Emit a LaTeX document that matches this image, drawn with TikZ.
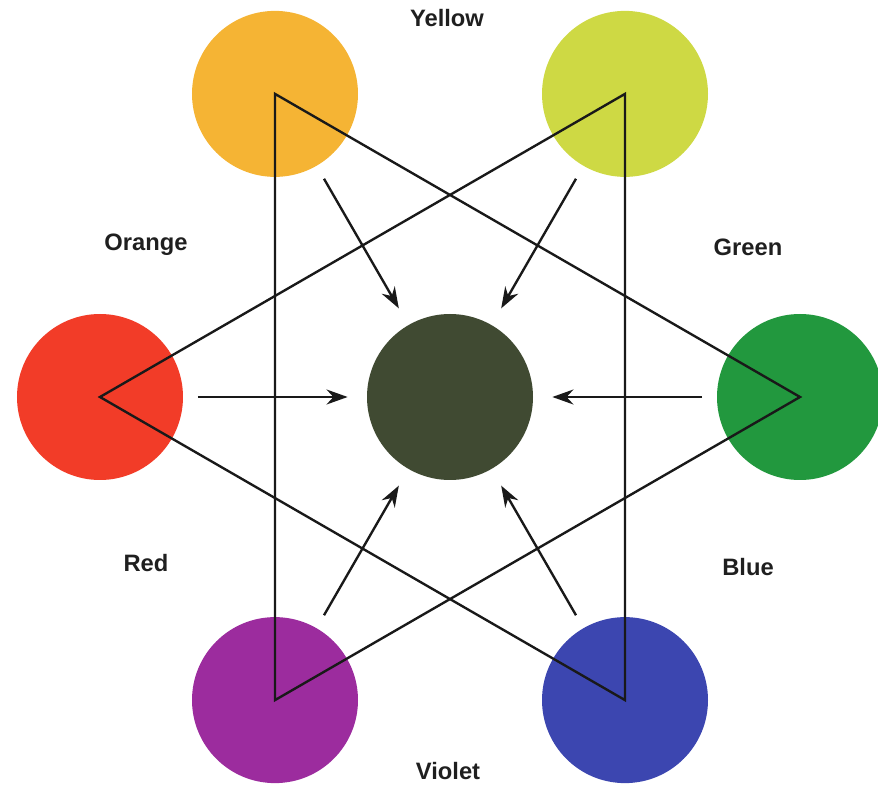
\documentclass[tikz,border=0pt]{standalone}
\usepackage{fontspec}
\newfontfamily\labelfont{Liberation Sans}
\usetikzlibrary{arrows.meta}
\definecolor{cYelOr}{RGB}{245,180,52}
\definecolor{cYelGr}{RGB}{206,217,68}
\definecolor{cGreen}{RGB}{34,152,62}
\definecolor{cBlue}{RGB}{60,70,176}
\definecolor{cViolet}{RGB}{156,44,158}
\definecolor{cRed}{RGB}{242,60,40}
\definecolor{cMix}{RGB}{64,74,50}
\tikzset{
  dot/.style={circle,inner sep=0pt,minimum size=3.32cm,draw=none},
  tri/.style={line width=1.35pt,black!90},
  arr/.style={-{Stealth[length=12pt,width=8.5pt]},line width=1.35pt,black!90,
              shorten >=0.38cm},
  lbl/.style={font=\labelfont\bfseries\fontsize{13.5}{16}\selectfont,text=black!88},
}

\begin{document}
\begin{tikzpicture}
  \useasboundingbox (-9,-7.8) rectangle (8.56,7.94);
  %% Colour circles
  \node[dot,fill=cYelOr]  (YO) at (120:7)  {};
  \node[dot,fill=cYelGr]  (YG) at (60:7)   {};
  \node[dot,fill=cGreen]  (G)  at (0:7)    {};
  \node[dot,fill=cBlue]   (B)  at (-60:7)  {};
  \node[dot,fill=cViolet] (V)  at (-120:7) {};
  \node[dot,fill=cRed]    (R)  at (180:7)  {};
  \node[dot,fill=cMix]    (M)  at (0,0)    {};

  %% Triangles
  \draw[tri] (YO.center) -- (G.center) -- (V.center) -- cycle;
  \draw[tri] (YG.center) -- (B.center) -- (R.center) -- cycle;

  %% Arrows to the mixture
  \foreach \a/\n in {120/YO,60/YG,0/G,-60/B,-120/V,180/R}
    \coordinate (s\n) at (\a:5.04);
  \foreach \n in {YO,YG,G,B,V,R}
    \draw[arr] (s\n) -- (M);

  %% Labels
  \node[lbl] (lY) at (-0.06,7.58)  {Yellow};
  \node[lbl] (lO) at (-6.08,3.04)  {Orange};
  \node[lbl] (lG) at (5.96,3.0)    {Green};
  \node[lbl] (lR) at (-6.08,-3.32) {Red};
  \node[lbl] (lB) at (5.96,-3.4)   {Blue};
  \node[lbl] (lV) at (-0.04,-7.48) {Violet};
\end{tikzpicture}
\end{document}
